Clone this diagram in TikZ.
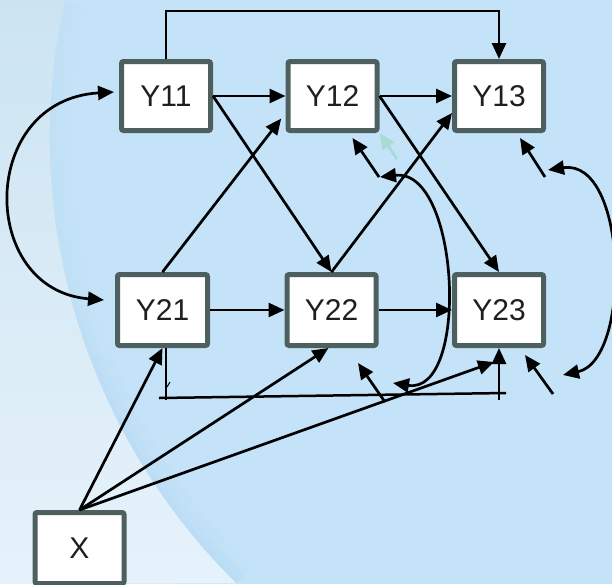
\documentclass[tikz,border=0pt]{standalone}
\usepackage{fontspec}
\setmainfont{Liberation Sans}
\usetikzlibrary{arrows.meta,calc,fadings}
\definecolor{bgblue}{HTML}{C5E3F8}
\definecolor{bgtop}{HTML}{CCE4F2}
\definecolor{bgbot}{HTML}{E6F2FB}
\definecolor{bandblue}{HTML}{A9D5F4}
\definecolor{boxedge}{HTML}{4E5F5F}
\definecolor{ghost}{HTML}{A8DCD3}
\begin{document}
\begin{tikzpicture}[x=1pt,y=-1pt,
  var/.style={draw=boxedge, line width=5pt, fill=white, rounded corners=2pt,
    minimum width=89pt, minimum height=69pt, inner sep=0pt,
    font=\fontsize{30}{34}\selectfont, text=black!88},
  lowvar/.style={var, minimum height=71pt},
  arr/.style={line width=2.7pt, -{Triangle[length=16pt,width=14pt]}},
  arrboth/.style={line width=2.7pt,
    {Triangle[length=16pt,width=14pt]}-{Triangle[length=16pt,width=14pt]}},
  plain/.style={line width=2.5pt}
]
% canvas and background
\useasboundingbox (0,0) rectangle (612,584);
\fill[bgblue] (0,0) rectangle (612,584);
% soft darker band along the inner side of the large arc
\begin{scope}
  \clip (0,0) rectangle (612,584);
  \clip (676,138) circle[radius=626pt];
  \foreach \w/\o in {44/0.12, 24/0.14, 10/0.16}
    \draw[bandblue, opacity=\o, line width=\w pt, path fading=north]
      (65,0) arc[start angle=192.7, end angle=134.6, radius=626];
\end{scope}
% pale region outside the arc
\shade[top color=bgtop, bottom color=bgbot]
  (0,0) -- (65,0) arc[start angle=192.7, end angle=134.6, radius=626]
  -- (0,584) -- cycle;

% variables
\node[var] (Y11) at (166,96) {Y11};
\node[var] (Y12) at (332.5,96) {Y12};
\node[var] (Y13) at (499,96) {Y13};
\node[lowvar, minimum width=90pt] (Y21) at (162.5,310) {Y21};
\node[lowvar] (Y22) at (331.5,310) {Y22};
\node[lowvar] (Y23) at (499,310) {Y23};
\node[lowvar] (X) at (79.5,548) {X};

% free ends
\coordinate (rail) at (330,11);
\coordinate (e12) at (380,177);
\coordinate (e22) at (393,383);
\coordinate (e13) at (548,170);
\coordinate (e23) at (563,375);
\coordinate (t12) at (379,177);
\coordinate (t13) at (545,177);
\coordinate (t22) at (385,402);
\coordinate (t23) at (553,394);
\coordinate (tg) at (397,159);
\coordinate (bl) at (159,398);
\coordinate (br) at (506,393);
\coordinate (bq) at (499,400);

% lag-2 path
\draw[arr] (Y11.north) |- (rail) -| (Y13.north);

% autoregressive paths
\draw[arr] (Y11.east) -- (Y12.west);
\draw[arr] (Y12.east) -- (Y13.west);
\draw[arr] (Y21.east) -- (Y22.west);
\draw[arr] (Y22.east) -- (Y23.west);

% cross-lagged paths
\draw[arr] (Y11.east) -- (Y22.north);
\draw[arr] (Y12.east) -- (Y23.north);
\draw[arr, shorten >=7pt] (Y21.north) -- ([yshift=-17pt]Y12.west);
\draw[arr] (Y22.north) -- ([yshift=-17pt]Y13.west);

% covariate
\draw[arr] (X.north) -- (Y21.south);
\draw[arr] (X.north) -- ([xshift=-3pt]Y22.south);
\draw[arr] (X.north) -- ([xshift=-5pt,yshift=-14pt]Y23.south);

% initial covariance
\draw[arrboth] ([xshift=-5pt,yshift=4pt]Y11.west)
  .. controls (-22,100) and (-22,290) .. ([xshift=-11pt,yshift=10pt]Y21.west);

% residual covariances
\draw[arrboth] (e12) .. controls (460,168) and (470,395) .. (e22);
\draw[arrboth] (e13) .. controls (628,158) and (632,360) .. (e23);

% residuals
\draw[arr] (t12) -- ([xshift=-27pt,yshift=-5pt]Y12.south east);
\draw[arr] (t13) -- ([xshift=-26pt,yshift=-5pt]Y13.south east);
\draw[arr] (t22) -- ([xshift=-20.5pt,yshift=-15pt]Y22.south east);
\draw[arr] (t23) -- ([xshift=-21pt,yshift=-7pt]Y23.south east);
\draw[arr, draw=ghost, fill=ghost] (tg) -- (Y12.south east);

% bracket below the second wave
\draw[plain] (bl) -- (br);
\draw[plain] ([xshift=3.5pt]Y21.south) -- ++(0,52);
\draw[line width=1pt] (167,387) -- (170,382);
\draw[arr] (bq) -- (Y23.south);
\end{tikzpicture}
\end{document}
